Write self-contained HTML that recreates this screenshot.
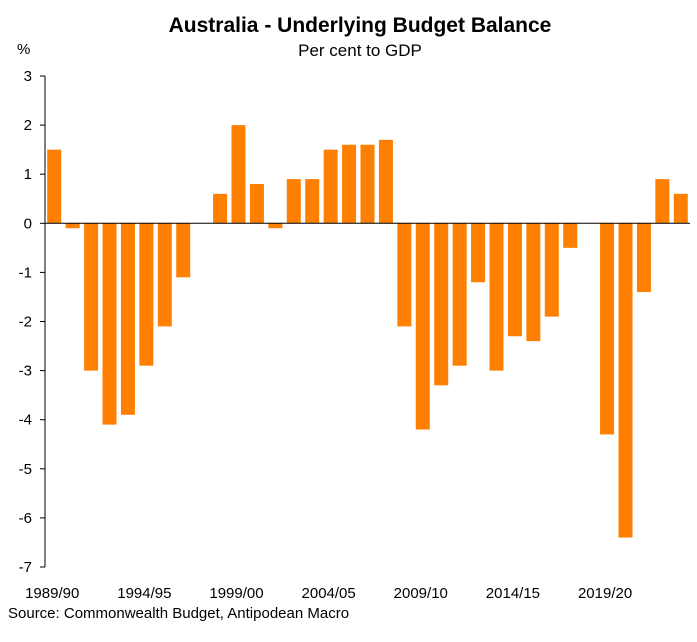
<!DOCTYPE html>
<html><head><meta charset="utf-8"><style>
body{margin:0;background:#fff;font-family:"Liberation Sans",Arial,sans-serif;}
svg text{font-family:"Liberation Sans",Arial,sans-serif;}
</style></head><body>
<svg id="chart" width="697" height="637" xmlns="http://www.w3.org/2000/svg">
<rect width="697" height="637" fill="#fff"/>
<text x="360" y="32" font-size="21" font-weight="bold" text-anchor="middle">Australia - Underlying Budget Balance</text>
<text x="360" y="56" font-size="17" text-anchor="middle">Per cent to GDP</text>
<text x="17" y="54" font-size="15">%</text>
<g id="bars"></g><g id="axes"></g>
<text x="8" y="618" font-size="15">Source: Commonwealth Budget, Antipodean Macro</text>
</svg>
<script>
const categories=["1989/90","1990/91","1991/92","1992/93","1993/94","1994/95","1995/96","1996/97","1997/98","1998/99","1999/00","2000/01","2001/02","2002/03","2003/04","2004/05","2005/06","2006/07","2007/08","2008/09","2009/10","2010/11","2011/12","2012/13","2013/14","2014/15","2015/16","2016/17","2017/18","2018/19","2019/20","2020/21","2021/22","2022/23","2023/24"];
const values=[1.5,-0.1,-3.0,-4.1,-3.9,-2.9,-2.1,-1.1,0,0.6,2.0,0.8,-0.1,0.9,0.9,1.5,1.6,1.6,1.7,-2.1,-4.2,-3.3,-2.9,-1.2,-3.0,-2.3,-2.4,-1.9,-0.5,0,-4.3,-6.4,-1.4,0.9,0.6];
const yTicks=[3,2,1,0,-1,-2,-3,-4,-5,-6,-7];
const xLabelIdx=[0,5,10,15,20,25,30];
const NS="http://www.w3.org/2000/svg";
const x0=45,x1=690,yTop=76,yBot=567,vMax=3,vMin=-7;
const step=(x1-x0)/categories.length,bw=14;
const y=v=>yTop+(vMax-v)*(yBot-yTop)/(vMax-vMin);
const xc=i=>x0+(i+0.5)*step;
function mk(t,a,p){const e=document.createElementNS(NS,t);for(const k in a)e.setAttribute(k,a[k]);p.appendChild(e);return e;}
const bars=document.getElementById('bars'),axes=document.getElementById('axes');
values.forEach((v,i)=>{
  const r=mk('rect',{x:xc(i)-bw/2,y:Math.min(y(v),y(0)),width:bw,height:Math.abs(y(v)-y(0)),fill:'#ff7f00'},bars);
  
  
});
const ax=mk('line',{x1:x0,x2:x0,y1:yTop,y2:yBot,stroke:'#000','stroke-width':1},axes);


const zl=mk('line',{x1:x0,x2:x1,y1:y(0),y2:y(0),stroke:'#000','stroke-width':1},axes);


yTicks.forEach(t=>{
  mk('line',{x1:x0-5,x2:x0,y1:y(t),y2:y(t),stroke:'#000'},axes);
  const tx=mk('text',{x:x0-13,y:y(t)+5,'font-size':15,'text-anchor':'end'},axes);
  tx.textContent=t;
  
  
});
xLabelIdx.forEach(i=>{
  const tx=mk('text',{x:xc(i)-2,y:598,'font-size':15,'text-anchor':'middle'},axes);
  tx.textContent=categories[i];
  
  
});
</script>
</body></html>
